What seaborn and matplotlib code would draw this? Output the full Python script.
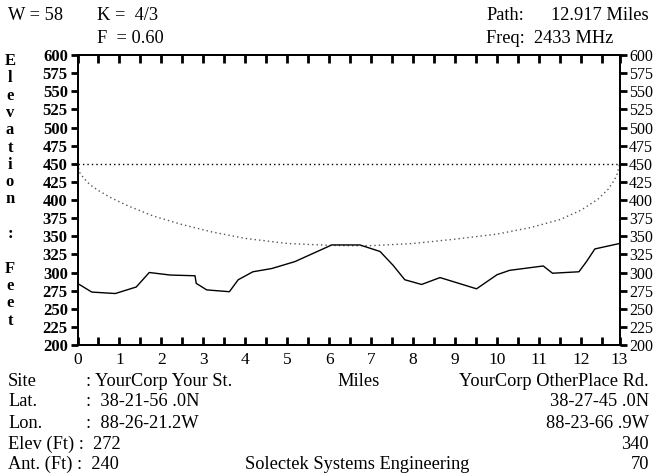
import matplotlib
matplotlib.use("Agg")
import matplotlib.pyplot as plt
import seaborn as sns

# ---------------- data ----------------
path_miles = 12.917

terrain_miles = [0.0, 0.34, 0.90, 1.40, 1.71, 2.21, 2.80, 2.83, 3.08, 3.62, 3.83, 4.18,
                 4.63, 5.18, 6.06, 6.73, 7.21, 7.52, 7.80, 8.20, 8.64, 9.51, 10.00,
                 10.30, 11.10, 11.32, 11.95, 12.13, 12.33, 12.917]
terrain_elev = [285, 273, 271, 280, 300, 296.5, 295.5, 285, 276, 273.5, 290, 301,
                305.5, 315, 338, 338, 329, 310, 290, 283.5, 293, 277.5, 297,
                303, 309, 299, 301, 315, 332.5, 340]

clear_miles = [0.0, 0.05, 0.15, 0.3, 0.5, 0.8, 1.2, 1.8, 2.5, 3.2, 4.0, 5.0, 6.0, 6.5,
               7.0, 8.0, 9.0, 10.0, 10.8, 11.5, 12.0, 12.4, 12.65, 12.8, 12.87, 12.917]
clear_elev = [450, 438, 430, 421, 413, 403, 392, 378, 366, 356, 347, 340, 337.5, 337,
              337, 340, 346, 353, 362, 373, 386, 401, 415, 428, 437, 450]

los_miles = [0.0, 12.917]
los_elev = [450, 450]

x_major = [0, 1, 2, 3, 4, 5, 6, 7, 8, 9, 10, 11, 12, 12.917]
x_labels = ["0", "1", "2", "3", "4", "5", "6", "7", "8", "9", "10", "11", "12", "13"]
x_minor = [0.5, 1.5, 2.5, 3.5, 4.5, 5.5, 6.5, 7.5, 8.5, 9.5, 10.5, 11.5, 12.5]
y_ticks = [200, 225, 250, 275, 300, 325, 350, 375, 400, 425, 450, 475, 500, 525,
           550, 575, 600]

ylabel_chars = ["E", "l", "e", "v", "a", "t", "i", "o", "n", "", ":", "", "F", "e", "e", "t"]

# ---------------- style ----------------
sns.set_theme(style="white")
plt.rcParams["font.family"] = ["Liberation Serif", "DejaVu Serif"]

W, H = 657, 473
fig = plt.figure(figsize=(W / 100, H / 100), dpi=100)
fig.patch.set_facecolor("white")

x0, x1, y0, y1 = 77.5, 619.5, 55, 345
ax = fig.add_axes([x0 / W, 1 - y1 / H, (x1 - x0) / W, (y1 - y0) / H])
ax.set_facecolor("white")

sns.lineplot(x=los_miles, y=los_elev, ax=ax, color="black", lw=1.0,
             linestyle=(0, (1, 2.2)), estimator=None, sort=False)
sns.lineplot(x=clear_miles, y=clear_elev, ax=ax, color="#555555", lw=1.0,
             linestyle=(0, (1, 2.2)), estimator=None, sort=False)
sns.lineplot(x=terrain_miles, y=terrain_elev, ax=ax, color="black", lw=1.0,
             estimator=None, sort=False)

ax.set_xlim(0, path_miles)
ax.set_ylim(200, 600)
ax.set_xlabel("")
ax.set_ylabel("")

ax.set_xticks(x_major)
ax.set_xticklabels(x_labels)
ax.set_xticks(x_minor, minor=True)
ax.tick_params(axis="x", which="both", direction="in", top=True, bottom=True,
               length=6, width=2, color="black", labelsize=12.5, pad=5,
               labelcolor="black")

ax.set_yticks(y_ticks)
ax.set_yticklabels([str(v) for v in y_ticks], fontweight="bold")
ax.tick_params(axis="y", which="both", direction="out", left=True, length=5,
               width=2, color="black", labelsize=12, pad=2, labelcolor="black")

ax2 = ax.twinx()
ax2.set_ylim(200, 600)
ax2.set_yticks(y_ticks)
ax2.set_yticklabels([str(v) for v in y_ticks])
ax2.tick_params(axis="y", direction="out", right=True, length=5, width=2,
                color="black", labelsize=11.5, pad=2, labelcolor="black")
ax2.grid(False)

for a in (ax, ax2):
    for s in a.spines.values():
        s.set_color("black")
        s.set_linewidth(1.3)
        s.set_visible(True)


def ft(x, y, s, ha="left", size=13.2, weight="normal"):
    fig.text(x / W, 1 - y / H, s, ha=ha, va="baseline", fontsize=size,
             fontweight=weight, color="black")


# header
ft(8, 20, "W = 58")
ft(97, 20, "K =  4/3")
ft(97, 43, "F  = 0.60")
ft(486, 20.5, "Path:")
ft(649, 20.5, "12.917 Miles", ha="right")
ft(486, 43, "Freq:  2433 MHz")

# vertical y label
for i, ch in enumerate(ylabel_chars):
    if ch:
        fig.text(10 / W, 1 - (61 + i * 17.3) / H, ch, ha="center", va="center",
                 fontsize=12, fontweight="bold", color="black")

# footer
rows = [385.5, 406.5, 427.5, 448.5, 468.5]
ft(8, rows[0], "Site")
ft(86, rows[0], ": YourCorp Your St.")
ft(359, rows[0], "Miles", ha="center")
ft(649, rows[0], "YourCorp OtherPlace Rd.", ha="right")

ft(8, rows[1], "Lat.")
ft(86, rows[1], ":  38-21-56 .0N")
ft(649, rows[1], "38-27-45 .0N", ha="right")

ft(8, rows[2], "Lon.")
ft(86, rows[2], ":  88-26-21.2W")
ft(649, rows[2], "88-23-66 .9W", ha="right")

ft(8, rows[3], "Elev (Ft) :  272")
ft(649, rows[3], "340", ha="right")

ft(8, rows[4], "Ant. (Ft) :  240")
ft(357, rows[4], "Solectek Systems Engineering", ha="center")
ft(649, rows[4], "70", ha="right")

fig.savefig("out.png", dpi=100, facecolor="white")
